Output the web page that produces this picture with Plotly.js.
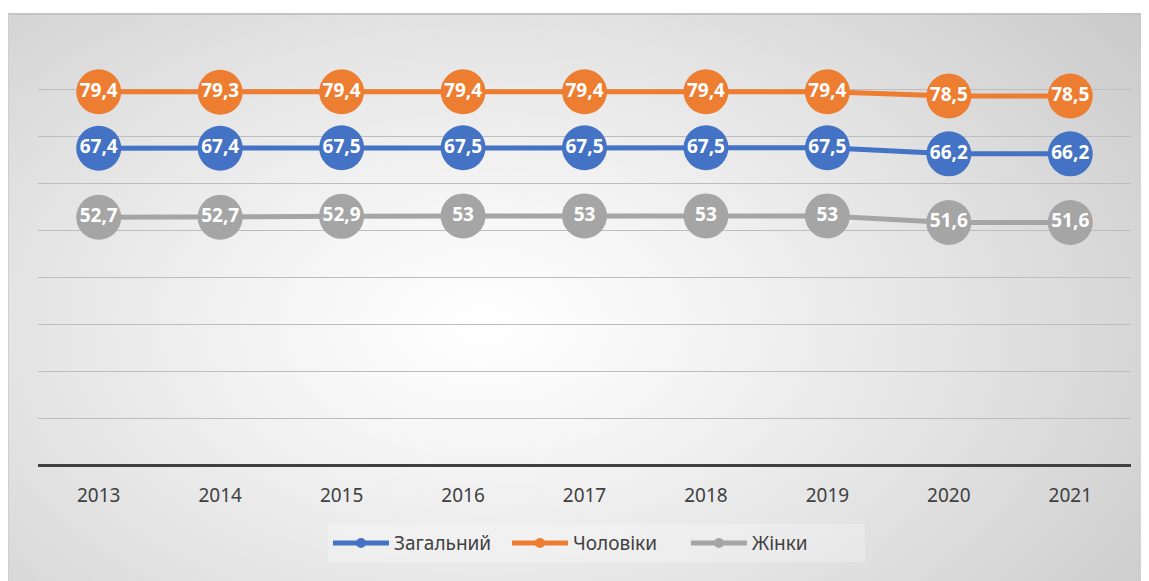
<!DOCTYPE html>
<html><head><meta charset="utf-8">
<script src="https://cdn.plot.ly/plotly-3.0.1.min.js"></script>
<style>
html,body{margin:0;padding:0;background:#fff;}
#bg{position:absolute;left:8px;top:13px;width:1133px;height:568px;box-sizing:border-box;border-top:2px solid #c4c4c4;border-left:1px solid #cfcfcf;
background:radial-gradient(ellipse 75% 95% at 42% 55%, #ffffff 0%, #f6f6f6 22%, #e2e2e2 58%, #c8c8c8 100%);}
#chart{position:absolute;left:0;top:0;width:1149px;height:581px;}
</style></head><body>
<div id="bg"></div>
<div id="chart"></div>
<script>
const years = ['2013','2014','2015','2016','2017','2018','2019','2020','2021'];
const total = [67.4,67.4,67.5,67.5,67.5,67.5,67.5,66.2,66.2];
const men   = [79.4,79.3,79.4,79.4,79.4,79.4,79.4,78.5,78.5];
const women = [52.7,52.7,52.9,53,53,53,53,51.6,51.6];
const names = ['Загальний','Чоловіки','Жінки'];
const colors = ['#4472c4','#ed7d31','#a5a5a5'];
const series = [total, men, women];
const fmt = v => String(v).replace('.', ',');
const FONT = 'Noto Sans, Open Sans, sans-serif';

const traces = [];
series.forEach((s,i)=>{
  traces.push({
    x: years, y: s, type:'scatter', mode:'lines+markers+text',
    text: s.map(fmt), textposition:'middle center',
    textfont:{family:FONT, size:19, color:'#ffffff', weight:'bold'},
    line:{color:colors[i], width:5},
    marker:{color:colors[i], size:45},
    showlegend:false, hoverinfo:'skip', cliponaxis:false
  });
});
series.forEach((s,i)=>{
  traces.push({
    x:[null], y:[null], type:'scatter', mode:'lines+markers', name:names[i],
    line:{color:colors[i], width:5}, marker:{color:colors[i], size:10}
  });
});

const layout = {
  width:1149, height:581,
  paper_bgcolor:'rgba(0,0,0,0)', plot_bgcolor:'rgba(0,0,0,0)',
  margin:{l:38, r:18, t:42, b:116},
  font:{family:FONT, color:'#404040'},
  xaxis:{type:'category', range:[-0.5,8.5], showgrid:false, zeroline:false,
    showline:false, ticks:'', tickfont:{size:19, color:'#404040'}, ticklabelstandoff:17},
  yaxis:{range:[0,90], dtick:10, showticklabels:false, showgrid:true,
    gridcolor:'#bdbdbd', gridwidth:1, zeroline:true, zerolinecolor:'#404040', zerolinewidth:3, fixedrange:true},
  showlegend:true,
  legend:{orientation:'h', x:0.2653, xanchor:'left', y:-0.14, yanchor:'top',
    font:{size:19, color:'#404040'}, itemwidth:56, entrywidth:108, entrywidthmode:'pixels',
    bgcolor:'rgba(255,255,255,0.25)', traceorder:'normal'}
};
Plotly.newPlot('chart', traces, layout, {displayModeBar:false, staticPlot:true});
</script>
</body></html>
